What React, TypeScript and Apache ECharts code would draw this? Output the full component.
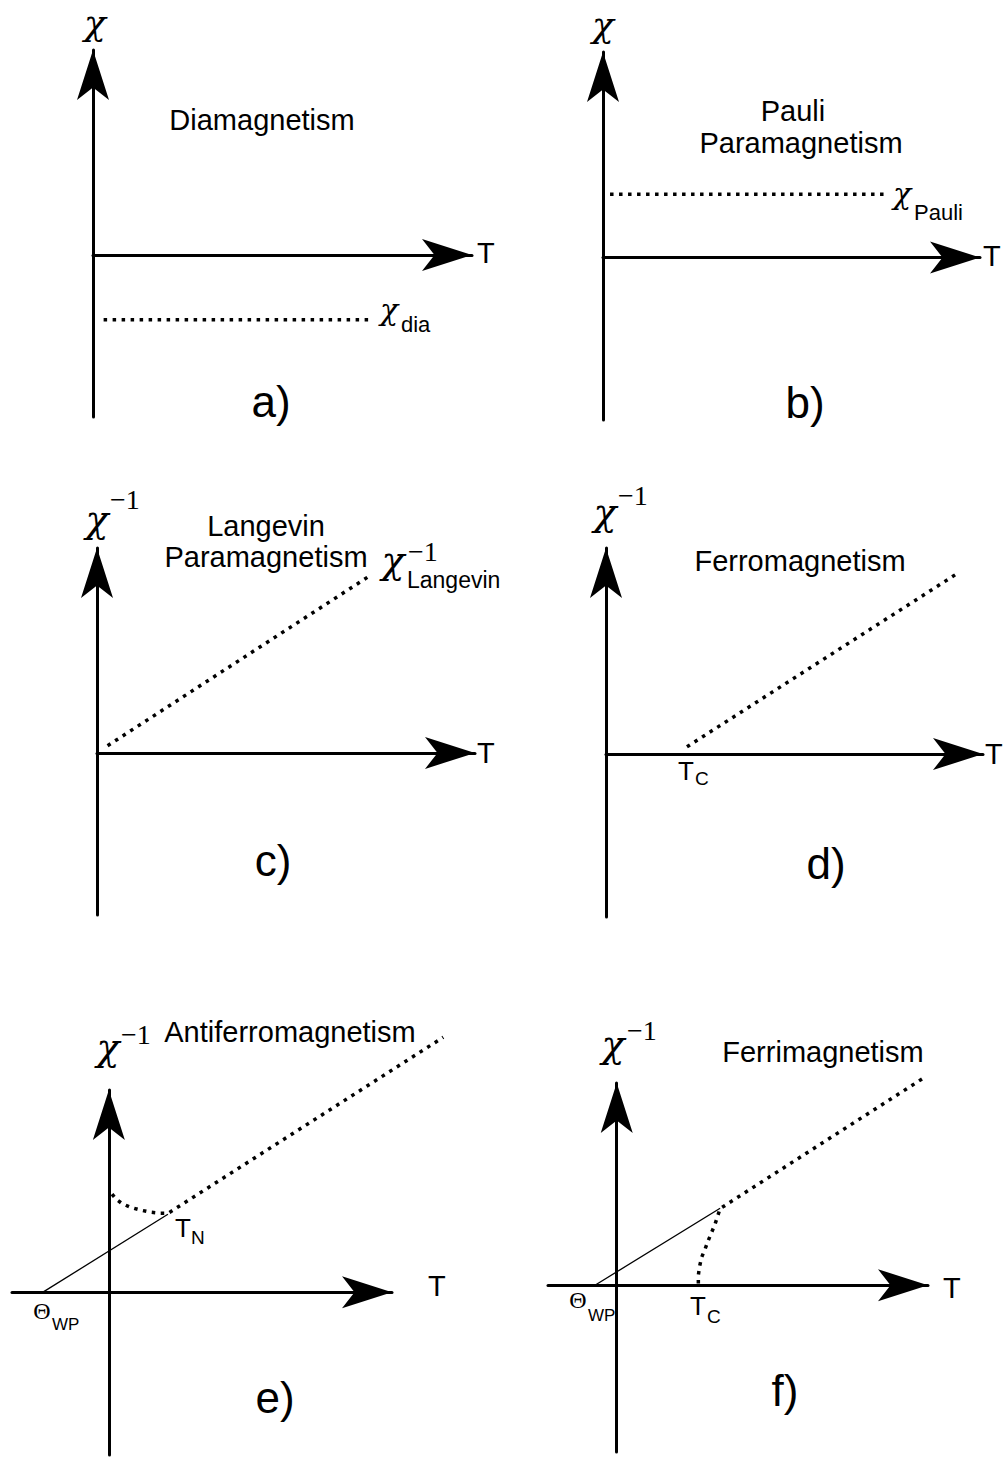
import React, { useEffect, useRef } from "react";
import * as echarts from "echarts";

const SANS = "'Liberation Sans', Arial, Helvetica, sans-serif";
const SERIF = "'Liberation Serif', 'Times New Roman', serif";
const CHI = "'DejaVu Serif', 'Liberation Serif', serif";

// a) diamagnetism: constant negative susceptibility
const diaT = [0.3, 7.9];
const diaChi = [-1.8, -1.8];

// b) Pauli paramagnetism: constant positive susceptibility
const pauliT = [0.2, 8.0];
const pauliChi = [1.75, 1.75];

// c) Langevin paramagnetism: inverse susceptibility linear through the origin
const langevinT = [0.3, 7.7];
const langevinInvChi = [0.2, 4.9];

// d) ferromagnetism: Curie-Weiss line starting at T_C
const ferroT = [2.3, 10.0];
const ferroInvChi = [0.2, 5.0];

// e) antiferromagnetism: dip below T_N, then Curie-Weiss line
const afmT = [0.1, 0.22, 0.41, 0.66, 0.97, 1.28, 1.59, 1.84, 10.36];
const afmInvChi = [2.77, 2.63, 2.5, 2.4, 2.32, 2.26, 2.23, 2.23, 7.2];
const afmWeissT = [-2.04, 1.83];
const afmWeissInvChi = [0, 2.2];

// f) ferrimagnetism: rises steeply from T_C, then Curie-Weiss line
const ferriT = [2.85, 2.85, 2.89, 2.97, 3.09, 3.2, 3.32, 3.44, 3.61, 10.77];
const ferriInvChi = [0.05, 0.28, 0.52, 0.8, 1.03, 1.27, 1.5, 1.74, 2.16, 5.87];
const ferriWeissT = [-0.76, 3.61];
const ferriWeissInvChi = [0, 2.17];

// axis ranges: six visible panels, plus a wider invisible frame for panel e's curves
const xRanges = [[0, 10.71], [0, 10.71], [0, 10.71], [0, 10.71], [-3, 8.77], [-2.4, 10.87], [-3, 11.25]];
const yRanges = [[-4.5, 5.69], [-4.5, 5.69], [-4.5, 5.69], [-4.5, 5.69], [-4.6, 5.71], [-4.7, 5.7], [-4.6, 5.71]];

const pairs = (xs: number[], ys: number[]) => xs.map((x, i) => [x, ys[i]]);

type Face = "sans" | "serif" | "chi";

function label(
  x: number,
  y: number,
  text: string,
  size: number,
  face: Face,
  align: "left" | "center" = "center",
  lineHeight?: number
) {
  const family = face === "sans" ? SANS : face === "chi" ? CHI : SERIF;
  const style = face === "chi" ? "italic" : "normal";
  return {
    type: "text",
    x,
    y,
    silent: true,
    style: {
      text,
      fill: "#000",
      font: `${style} normal ${size}px ${family}`,
      fontSize: size,
      fontFamily: family,
      fontStyle: style,
      lineHeight: lineHeight ?? size,
      align,
      verticalAlign: "middle",
      textAlign: align,
      textVerticalAlign: "middle",
    },
  };
}

export default function App() {
  const ref = useRef<HTMLDivElement>(null);

  useEffect(() => {
    if (!ref.current) return;
    const chart = echarts.init(ref.current, null, { renderer: "svg" });

    // each axis runs from its origin side to the arrow tip
    const grids = [
      { left: 93, top: 50, width: 379, height: 367 },
      { left: 603, top: 52, width: 377, height: 368 },
      { left: 97, top: 548, width: 378, height: 367 },
      { left: 606, top: 548, width: 377, height: 369 },
      { left: 12, top: 1090, width: 380, height: 365 },
      { left: 548, top: 1083, width: 380, height: 369 },
      { left: 12, top: 1090, width: 460, height: 365 },
    ];

    const axisLine = {
      show: true,
      onZero: true,
      symbol: ["none", "arrow"],
      symbolSize: [24, 50],
      lineStyle: { color: "#000", width: 3 },
    };
    const axisStyle = (i: number) =>
      i < 6
        ? { axisLine, axisTick: { show: false }, axisLabel: { show: false }, splitLine: { show: false } }
        : { show: false };

    const dotted = { color: "#000", width: 3.5, type: [3.5, 5.5], cap: "butt" };
    const thin = { color: "#000", width: 1.3, type: "solid" };

    const line = (i: number, data: number[][], style: object) => ({
      type: "line",
      xAxisIndex: i,
      yAxisIndex: i,
      data,
      symbol: "none",
      showSymbol: false,
      clip: false,
      silent: true,
      lineStyle: style,
    });

    const texts = [
      // a)
      label(95, 22, "χ", 36, "chi"),
      label(262, 120, "Diamagnetism", 29, "sans"),
      label(477, 253, "T", 29, "sans", "left"),
      label(389, 309, "χ", 30, "chi"),
      label(401, 324, "dia", 22, "sans", "left"),
      label(271, 401, "a)", 44, "sans"),
      // b)
      label(603, 24, "χ", 36, "chi"),
      label(793, 111, "Pauli", 29, "sans"),
      label(801, 143, "Paramagnetism", 29, "sans"),
      label(902, 193, "χ", 30, "chi"),
      label(914, 212, "Pauli", 22, "sans", "left"),
      label(983, 256, "T", 29, "sans", "left"),
      label(805, 402, "b)", 44, "sans"),
      // c)
      label(97, 519, "χ", 38, "chi"),
      label(110, 499, "−1", 28, "serif", "left"),
      label(266, 541, "Langevin\nParamagnetism", 29, "sans", "center", 31),
      label(393, 560, "χ", 38, "chi"),
      label(408, 551, "−1", 28, "serif", "left"),
      label(407, 580, "Langevin", 23, "sans", "left"),
      label(477, 753, "T", 29, "sans", "left"),
      label(273, 860, "c)", 44, "sans"),
      // d)
      label(605, 512, "χ", 38, "chi"),
      label(618, 495, "−1", 28, "serif", "left"),
      label(800, 561, "Ferromagnetism", 29, "sans"),
      label(678, 771, "T", 26, "sans", "left"),
      label(695, 778, "C", 19, "sans", "left"),
      label(985, 754, "T", 29, "sans", "left"),
      label(826, 863, "d)", 44, "sans"),
      // e)
      label(108, 1047, "χ", 38, "chi"),
      label(121, 1034, "−1", 28, "serif", "left"),
      label(290, 1032, "Antiferromagnetism", 29, "sans"),
      label(175, 1228, "T", 26, "sans", "left"),
      label(191, 1237, "N", 19, "sans", "left"),
      label(428, 1286, "T", 29, "sans", "left"),
      label(42, 1311, "Θ", 24, "serif"),
      label(52, 1324, "WP", 17, "sans", "left"),
      label(275, 1397, "e)", 44, "sans"),
      // f)
      label(613, 1044, "χ", 38, "chi"),
      label(627, 1030, "−1", 28, "serif", "left"),
      label(823, 1052, "Ferrimagnetism", 29, "sans"),
      label(943, 1288, "T", 29, "sans", "left"),
      label(578, 1300, "Θ", 24, "serif"),
      label(588, 1315, "WP", 17, "sans", "left"),
      label(690, 1306, "T", 26, "sans", "left"),
      label(707, 1316, "C", 19, "sans", "left"),
      label(785, 1390, "f)", 44, "sans"),
    ];

    chart.setOption({
      animation: false,
      backgroundColor: "#fff",
      grid: grids.map((g) => ({ ...g, containLabel: false })),
      xAxis: xRanges.map((r, i) => ({
        type: "value",
        gridIndex: i,
        min: r[0],
        max: r[1],
        ...axisStyle(i),
      })),
      yAxis: yRanges.map((r, i) => ({
        type: "value",
        gridIndex: i,
        min: r[0],
        max: r[1],
        ...axisStyle(i),
      })),
      series: [
        line(0, pairs(diaT, diaChi), dotted),
        line(1, pairs(pauliT, pauliChi), dotted),
        line(2, pairs(langevinT, langevinInvChi), dotted),
        line(3, pairs(ferroT, ferroInvChi), dotted),
        line(6, pairs(afmWeissT, afmWeissInvChi), thin),
        line(6, pairs(afmT, afmInvChi), dotted),
        line(5, pairs(ferriWeissT, ferriWeissInvChi), thin),
        line(5, pairs(ferriT, ferriInvChi), dotted),
      ],
      graphic: texts,
    });

    return () => chart.dispose();
  }, []);

  return (
    <div
      ref={ref}
      style={{ position: "absolute", left: 0, top: 0, width: 1003, height: 1459, background: "#fff" }}
    />
  );
}
